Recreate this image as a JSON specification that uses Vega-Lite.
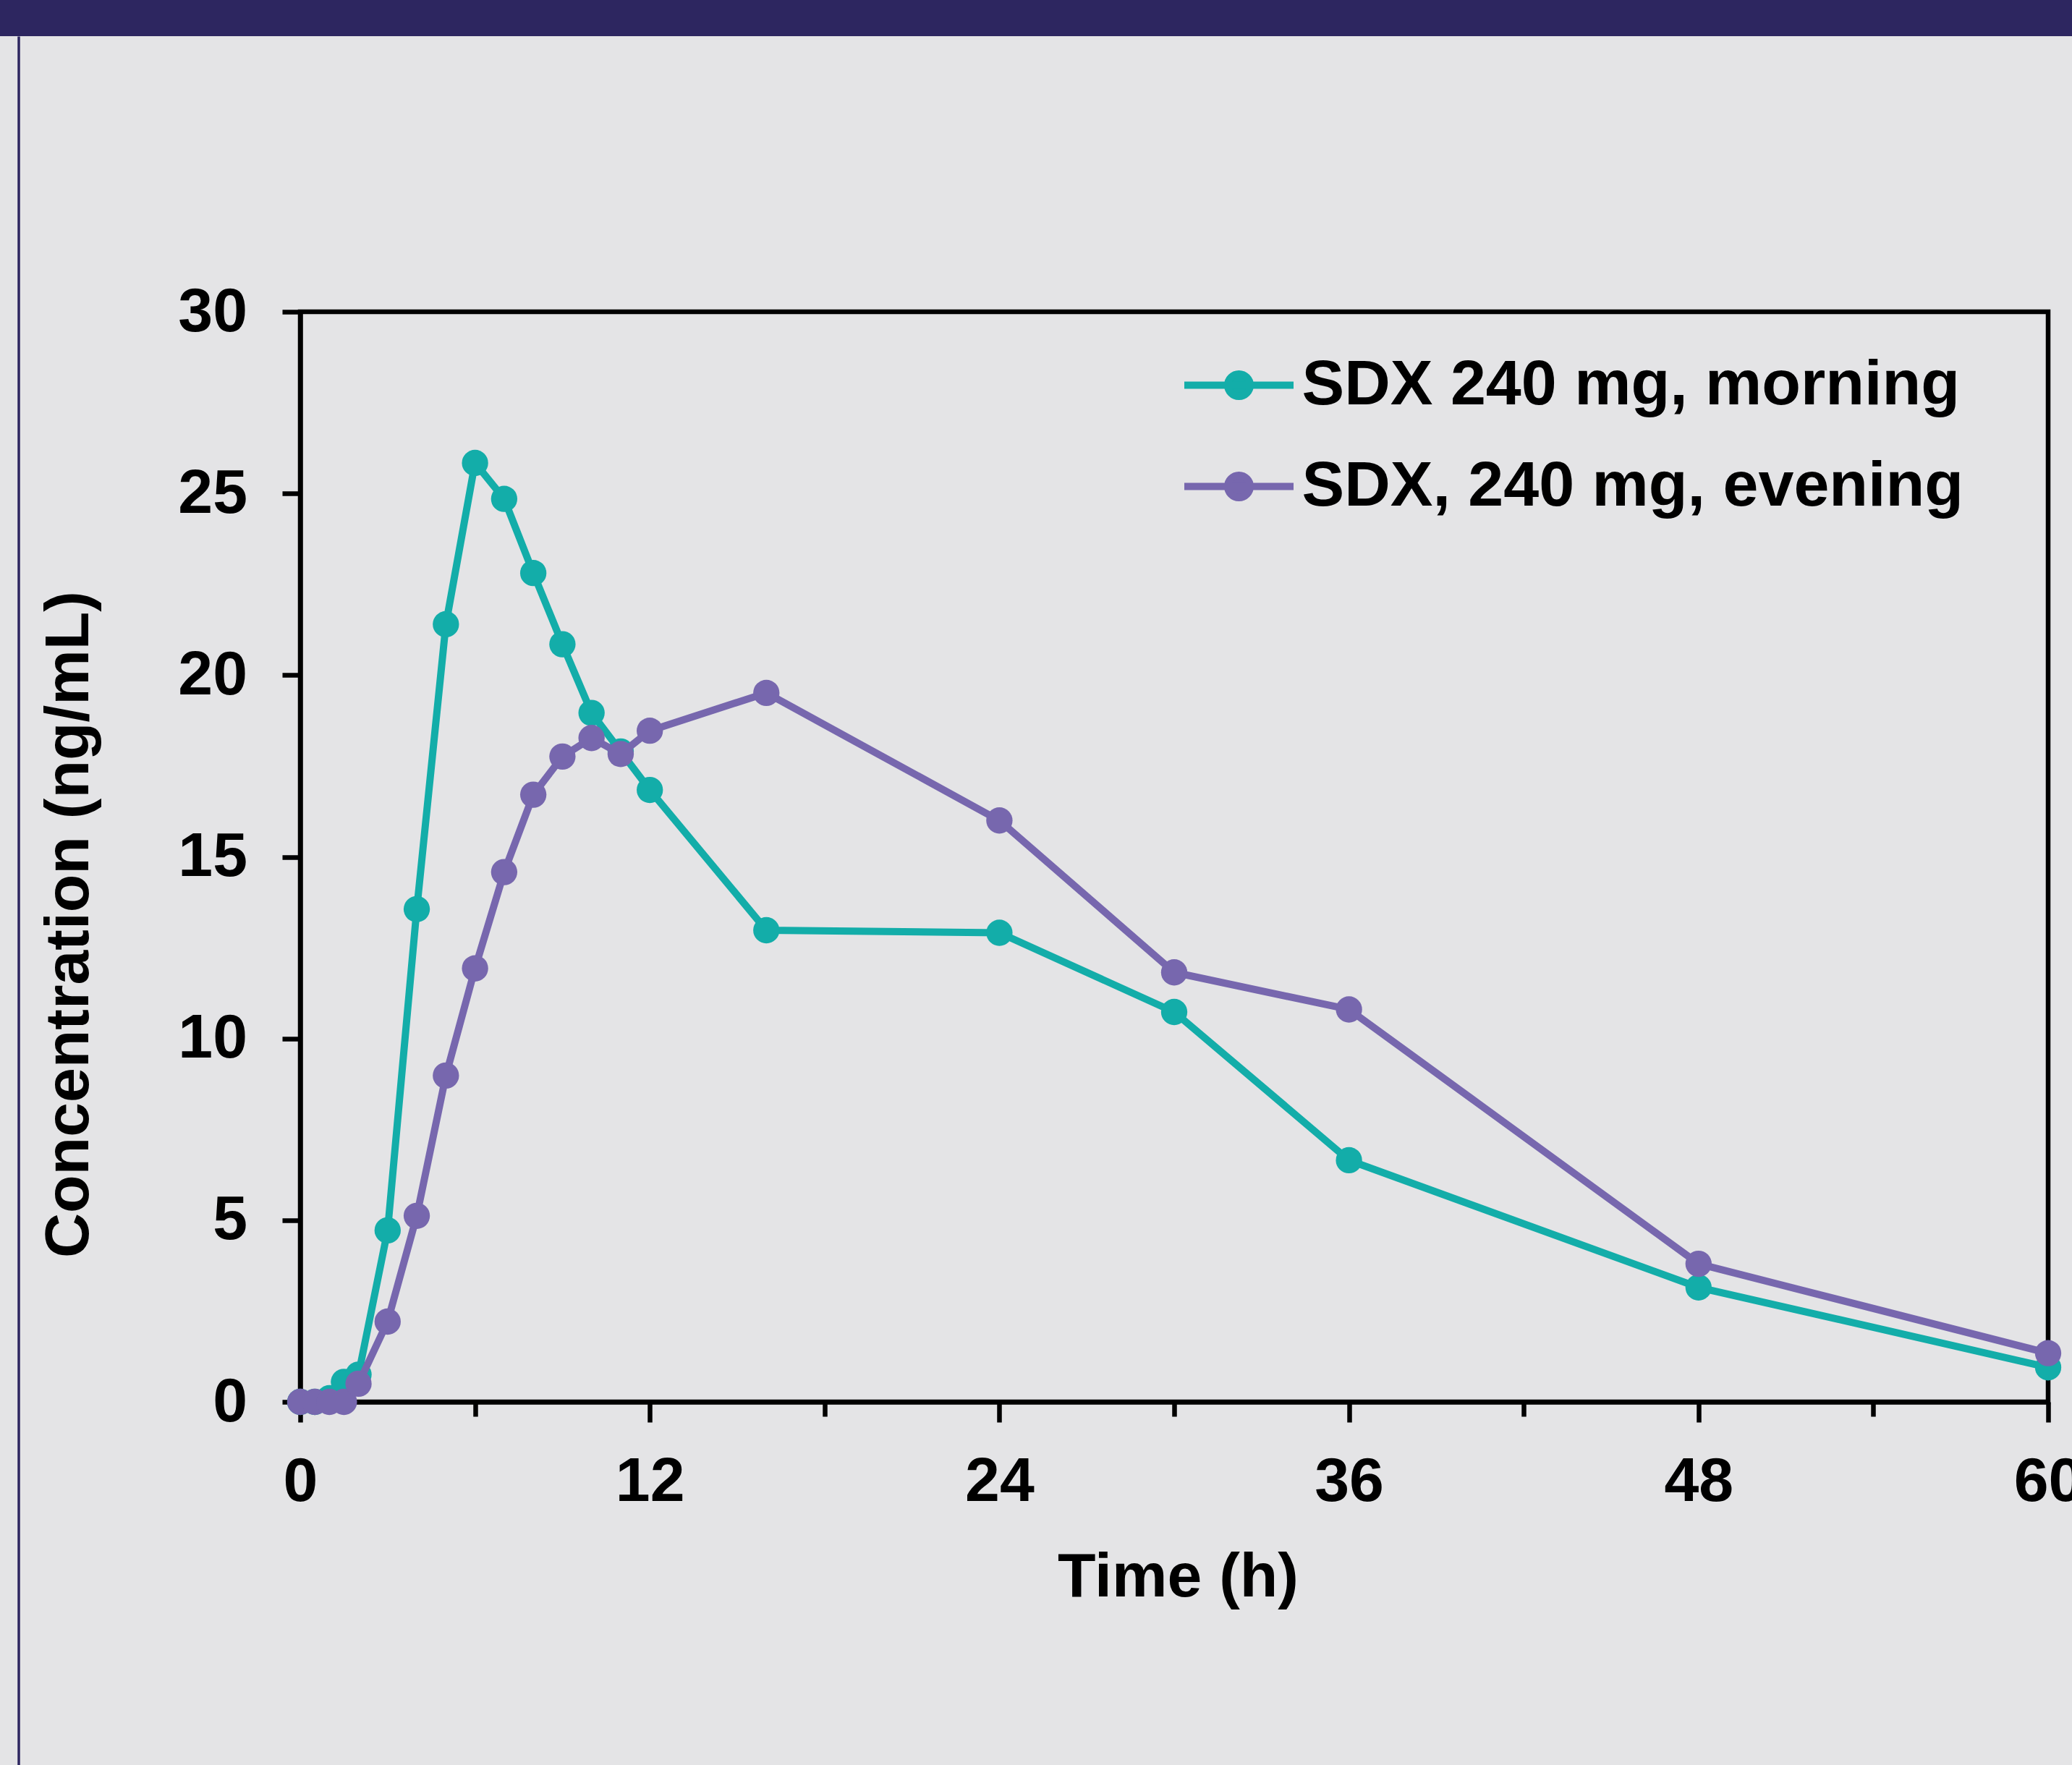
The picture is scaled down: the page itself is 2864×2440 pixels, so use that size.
{
  "$schema": "https://vega.github.io/schema/vega-lite/v6.json",
  "background": "#E4E4E6",
  "padding": 0,
  "bounds": "flush",
  "spacing": 0,
  "config": {
    "view": {"stroke": null},
    "font": "Liberation Sans"
  },
  "vconcat": [
    {
      "width": 2864,
      "height": 50,
      "view": {"fill": "#2D2660", "stroke": null},
      "data": {"values": []},
      "mark": "point"
    },
    {
      "bounds": "flush",
      "spacing": 389,
      "hconcat": [
        {
          "width": 25.5,
          "height": 2400,
          "view": {"stroke": null},
          "data": {"values": [{"v": 0}, {"v": 1}]},
          "mark": {"type": "point", "opacity": 0},
          "encoding": {
            "y": {
              "field": "v",
              "type": "quantitative",
              "axis": {"orient": "right", "domainColor": "#2D2660", "domainWidth": 3.5, "ticks": false, "labels": false, "title": null, "grid": false}
            }
          }
        },
        {
          "bounds": "flush",
          "spacing": 0,
          "vconcat": [
            {
              "width": 1,
              "height": 380.5,
              "view": {"stroke": null},
              "data": {"values": []},
              "mark": "point"
            },
            {
              "width": 2416,
              "height": 1507,
              "view": {"stroke": "#000000", "strokeWidth": 6.5, "fill": null},
              "data": {
                "values": [
                  {"time": 0, "conc": 0, "series": "SDX 240 mg, morning"},
                  {"time": 0.5, "conc": 0, "series": "SDX 240 mg, morning"},
                  {"time": 1, "conc": 0.1, "series": "SDX 240 mg, morning"},
                  {"time": 1.5, "conc": 0.55, "series": "SDX 240 mg, morning"},
                  {"time": 2, "conc": 0.75, "series": "SDX 240 mg, morning"},
                  {"time": 3, "conc": 4.72, "series": "SDX 240 mg, morning"},
                  {"time": 4, "conc": 13.56, "series": "SDX 240 mg, morning"},
                  {"time": 5, "conc": 21.4, "series": "SDX 240 mg, morning"},
                  {"time": 6, "conc": 25.84, "series": "SDX 240 mg, morning"},
                  {"time": 7, "conc": 24.85, "series": "SDX 240 mg, morning"},
                  {"time": 8, "conc": 22.81, "series": "SDX 240 mg, morning"},
                  {"time": 9, "conc": 20.85, "series": "SDX 240 mg, morning"},
                  {"time": 10, "conc": 18.96, "series": "SDX 240 mg, morning"},
                  {"time": 11, "conc": 17.9, "series": "SDX 240 mg, morning"},
                  {"time": 12, "conc": 16.84, "series": "SDX 240 mg, morning"},
                  {"time": 16, "conc": 12.98, "series": "SDX 240 mg, morning"},
                  {"time": 24, "conc": 12.91, "series": "SDX 240 mg, morning"},
                  {"time": 30, "conc": 10.73, "series": "SDX 240 mg, morning"},
                  {"time": 36, "conc": 6.65, "series": "SDX 240 mg, morning"},
                  {"time": 48, "conc": 3.15, "series": "SDX 240 mg, morning"},
                  {"time": 60, "conc": 0.95, "series": "SDX 240 mg, morning"},
                  {"time": 0, "conc": 0, "series": "SDX, 240 mg, evening"},
                  {"time": 0.5, "conc": 0, "series": "SDX, 240 mg, evening"},
                  {"time": 1, "conc": 0, "series": "SDX, 240 mg, evening"},
                  {"time": 1.5, "conc": 0, "series": "SDX, 240 mg, evening"},
                  {"time": 2, "conc": 0.5, "series": "SDX, 240 mg, evening"},
                  {"time": 3, "conc": 2.21, "series": "SDX, 240 mg, evening"},
                  {"time": 4, "conc": 5.12, "series": "SDX, 240 mg, evening"},
                  {"time": 5, "conc": 8.98, "series": "SDX, 240 mg, evening"},
                  {"time": 6, "conc": 11.93, "series": "SDX, 240 mg, evening"},
                  {"time": 7, "conc": 14.58, "series": "SDX, 240 mg, evening"},
                  {"time": 8, "conc": 16.71, "series": "SDX, 240 mg, evening"},
                  {"time": 9, "conc": 17.76, "series": "SDX, 240 mg, evening"},
                  {"time": 10, "conc": 18.27, "series": "SDX, 240 mg, evening"},
                  {"time": 11, "conc": 17.83, "series": "SDX, 240 mg, evening"},
                  {"time": 12, "conc": 18.47, "series": "SDX, 240 mg, evening"},
                  {"time": 16, "conc": 19.51, "series": "SDX, 240 mg, evening"},
                  {"time": 24, "conc": 16.0, "series": "SDX, 240 mg, evening"},
                  {"time": 30, "conc": 11.82, "series": "SDX, 240 mg, evening"},
                  {"time": 36, "conc": 10.8, "series": "SDX, 240 mg, evening"},
                  {"time": 48, "conc": 3.8, "series": "SDX, 240 mg, evening"},
                  {"time": 60, "conc": 1.34, "series": "SDX, 240 mg, evening"}
                ]
              },
              "resolve": {"axis": {"x": "independent"}},
              "layer": [
                {
                  "encoding": {
                    "x": {
                      "field": "time",
                      "type": "quantitative",
                      "scale": {"domain": [0, 60], "nice": false, "zero": false},
                      "axis": {
                        "orient": "bottom",
                        "values": [0, 12, 24, 36, 48, 60],
                        "grid": false,
                        "domainColor": "#000000",
                        "domainWidth": 6.5,
                        "tickColor": "#000000",
                        "tickWidth": 6.5,
                        "tickSize": 28,
                        "labelFont": "Liberation Sans",
                        "labelFontSize": 86,
                        "labelFontWeight": "bold",
                        "labelColor": "#000000",
                        "labelPadding": 40.5,
                        "labelFlush": false,
                        "labelOverlap": false,
                        "title": "Time (h)",
                        "titleFont": "Liberation Sans",
                        "titleFontSize": 86,
                        "titleFontWeight": "bold",
                        "titleColor": "#000000",
                        "titleX": 1213,
                        "titleY": 200,
                        "titleAlign": "center",
                        "titleBaseline": "top"
                      }
                    },
                    "y": {
                      "field": "conc",
                      "type": "quantitative",
                      "scale": {"domain": [0, 30], "nice": false},
                      "axis": {
                        "values": [0, 5, 10, 15, 20, 25, 30],
                        "grid": false,
                        "domainColor": "#000000",
                        "domainWidth": 6.5,
                        "tickColor": "#000000",
                        "tickWidth": 6.5,
                        "tickSize": 25,
                        "labelFont": "Liberation Sans",
                        "labelFontSize": 86,
                        "labelFontWeight": "bold",
                        "labelColor": "#000000",
                        "labelPadding": 48.5,
                        "labelFlush": false,
                        "labelOverlap": false,
                        "title": "Concentration (ng/mL)",
                        "titleFont": "Liberation Sans",
                        "titleFontSize": 86,
                        "titleFontWeight": "bold",
                        "titleColor": "#000000",
                        "titleAngle": -90,
                        "titleX": -293.5,
                        "titleY": 846.5,
                        "titleAlign": "center",
                        "titleBaseline": "alphabetic"
                      }
                    },
                    "color": {
                      "field": "series",
                      "type": "nominal",
                      "scale": {
                        "domain": ["SDX 240 mg, morning", "SDX, 240 mg, evening"],
                        "range": ["#13ADA9", "#7767AE"]
                      },
                      "legend": {
                        "title": null,
                        "orient": "none",
                        "legendX": 1632,
                        "legendY": 452,
                        "padding": 0,
                        "symbolType": "M-1,0L1,0M-0.2053,0A0.2053,0.2053,0,1,1,0.2053,0A0.2053,0.2053,0,1,1,-0.2053,0Z",
                        "symbolSize": 22801,
                        "symbolStrokeWidth": 10,
                        "labelFont": "Liberation Sans",
                        "labelFontSize": 88,
                        "labelFontWeight": "bold",
                        "labelColor": "#000000",
                        "labelLimit": 3000,
                        "labelOffset": 6.5,
                        "rowPadding": 15,
                        "encode": {
                          "symbols": {
                            "update": {
                              "fill": {"scale": "color", "field": "value"},
                              "stroke": {"scale": "color", "field": "value"},
                              "opacity": {"value": 1}
                            }
                          }
                        }
                      }
                    }
                  },
                  "layer": [
                    {
                      "transform": [{"filter": "datum.series == 'SDX 240 mg, morning'"}],
                      "mark": {"type": "line", "strokeWidth": 10, "strokeJoin": "round", "strokeCap": "round"}
                    },
                    {
                      "transform": [{"filter": "datum.series == 'SDX 240 mg, morning'"}],
                      "mark": {"type": "point", "shape": "circle", "filled": true, "opacity": 1, "size": 1320}
                    },
                    {
                      "transform": [{"filter": "datum.series == 'SDX, 240 mg, evening'"}],
                      "mark": {"type": "line", "strokeWidth": 10, "strokeJoin": "round", "strokeCap": "round"}
                    },
                    {
                      "transform": [{"filter": "datum.series == 'SDX, 240 mg, evening'"}],
                      "mark": {"type": "point", "shape": "circle", "filled": true, "opacity": 1, "size": 1320}
                    }
                  ]
                },
                {
                  "mark": {"type": "point", "opacity": 0},
                  "encoding": {
                    "x": {
                      "field": "time",
                      "type": "quantitative",
                      "axis": {
                        "orient": "bottom",
                        "values": [6, 18, 30, 42, 54],
                        "grid": false,
                        "domain": false,
                        "labels": false,
                        "tickColor": "#000000",
                        "tickWidth": 6.5,
                        "tickSize": 20,
                        "title": null
                      }
                    }
                  }
                }
              ]
            }
          ]
        }
      ]
    }
  ]
}
